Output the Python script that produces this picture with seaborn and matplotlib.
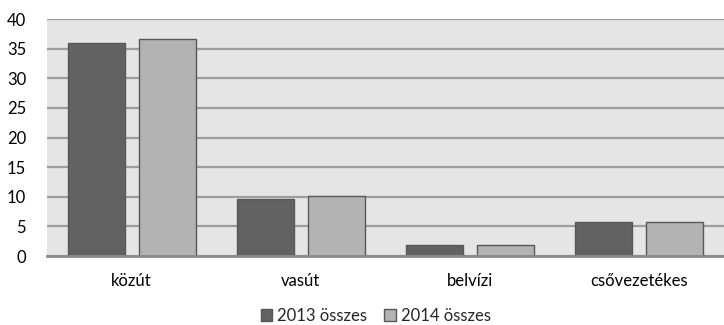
import matplotlib
matplotlib.use("Agg")
import matplotlib.pyplot as plt
import seaborn as sns
import pandas as pd

categories = ["közút", "vasút", "belvízi", "csővezetékes"]
series_names = ["2013 összes", "2014 összes"]
values_2013 = [35.9, 9.7, 1.9, 5.7]
values_2014 = [36.6, 10.2, 1.8, 5.8]
y_ticks = [0, 5, 10, 15, 20, 25, 30, 35, 40]

df = pd.DataFrame({
    "kategória": categories * 2,
    "év": [series_names[0]] * len(categories) + [series_names[1]] * len(categories),
    "érték": values_2013 + values_2014,
})

sns.set_style("white")
plt.rcParams["font.family"] = ["Lato", "DejaVu Sans"]

fig = plt.figure(figsize=(7.24, 3.25), dpi=100)
ax = fig.add_axes([0.065, 0.212, 0.935, 0.7295])
ax.set_facecolor("#e5e5e5")

palette = {series_names[0]: "#626262", series_names[1]: "#b3b3b3"}
sns.barplot(data=df, x="kategória", y="érték", hue="év", palette=palette,
            width=0.84, gap=0.2, edgecolor="#585858", linewidth=1.0,
            saturation=1, ax=ax, zorder=3, legend=True)

ax.set_ylim(0, 40)
ax.set_xlim(-0.5, len(categories) - 0.5)
ax.set_yticks(y_ticks)
ax.yaxis.grid(True, color="#9d9d9d", linewidth=1.6, zorder=0)
ax.set_axisbelow(True)
for s in ["top", "right", "left"]:
    ax.spines[s].set_visible(False)
ax.spines["bottom"].set_color("#8a8a8a")
ax.spines["bottom"].set_linewidth(2)
ax.spines["bottom"].set_zorder(4)
ax.tick_params(axis="both", length=0, labelsize=12, colors="black")
ax.tick_params(axis="x", pad=12)
ax.tick_params(axis="y", pad=15)
ax.set_xlabel("")
ax.set_ylabel("")

handles, labels = ax.get_legend_handles_labels()
ax.legend_.remove()
fig.legend(handles, labels, loc="center", bbox_to_anchor=(0.519, 0.028),
           ncol=2, frameon=False, fontsize=12, handlelength=0.7,
           handleheight=0.7, handletextpad=0.3, columnspacing=1.0,
           borderpad=0.1)

fig.savefig("out.png", dpi=100)
